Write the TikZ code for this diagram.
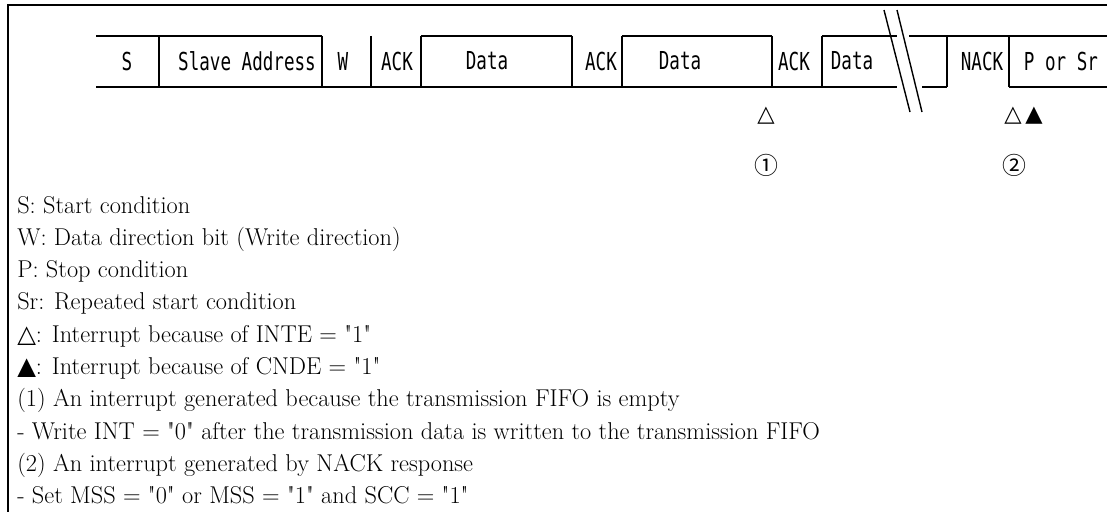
\documentclass[tikz,border=0pt]{standalone}
\usepackage{fontspec}
\setmainfont{Latin Modern Roman}[Ligatures=TeXOff]
\newfontfamily\gothfont[FakeStretch=0.71]{DejaVu Sans Mono}
\newfontfamily\symbfont{DejaVu Sans}
\newfontfamily\cjkfont{Noto Sans CJK JP}
\tikzset{
  wave/.style={line width=1pt},
  fieldtxt/.style={font=\gothfont\fontsize{17.6}{20}\selectfont, inner sep=0pt},
  irq/.style={font=\symbfont\fontsize{16}{18}\selectfont, inner sep=0pt},
  irqnum/.style={font=\cjkfont\fontsize{17}{20}\selectfont, inner sep=0pt},
  legend/.style={font=\fontsize{17.3}{20}\selectfont, anchor=base west, inner sep=0pt}
}
\begin{document}
\begin{tikzpicture}[x=0.025cm, y=-0.025cm]
  \useasboundingbox (0,0) rectangle (1107,512);
  \clip (0,0) rectangle (1107,512);
  % frame
  \draw[line width=2.1pt] (8,5) rectangle (1130,540);
  % upper edges
  \draw[wave] (96,36) -- (322,36);
  \foreach \a/\b in {421/572, 622/772, 822/897}
    \draw[wave] (\a,36) -- (\b,36);
  \draw[wave] (909,36) -- (1107,36);
  % lower edges
  \draw[wave] (96,87) -- (897,87);
  \draw[wave] (922,87) -- (947,87);
  \draw[wave] (1009,87) -- (1107,87);
  % separators
  \foreach \x in {159,322,371,421,572,622,772,822,947,1009}
    \draw[wave] (\x,36) -- (\x,87);
  % break marks
  \draw[wave] (884,10) -- (910,112);
  \draw[wave] (897,10) -- (922,112);
  % field names
  \foreach \n/\x/\t in {s/127/S, addr/247/Slave Address, w/343/W, ack1/397/ACK,
      data1/487/Data, ack2/601/ACK, data2/680/Data, ack3/794/ACK, data3/852/Data,
      nack/982/NACK, porsr/1061/P or Sr}
    \node[fieldtxt] (\n) at (\x,61) {\t};
  % interrupt marks
  \node[irq] (int1) at (766,116) {△};
  \node[irq] (int2) at (1013,116) {△};
  \node[irq] (cnd2) at (1034,116) {▲};
  \node[irqnum] (num1) at (766,165) {①};
  \node[irqnum] (num2) at (1014,165) {②};
  % legend
  \foreach \t [count=\i from 0] in {
      S: Start condition,
      W: Data direction bit (Write direction),
      P: Stop condition,
      Sr: Repeated start condition,
      {{\symbfont △}: Interrupt because of INTE = "1"},
      {{\symbfont ▲}: Interrupt because of CNDE = "1"},
      (1) An interrupt generated because the transmission FIFO is empty,
      - Write INT = "0" after the transmission data is written to the transmission FIFO,
      (2) An interrupt generated by NACK response,
      - Set MSS = "0" or MSS = "1" and SCC = "1"}
    \node[legend] (note\i) at (17,213+32.3*\i) {\t};
\end{tikzpicture}
\end{document}
